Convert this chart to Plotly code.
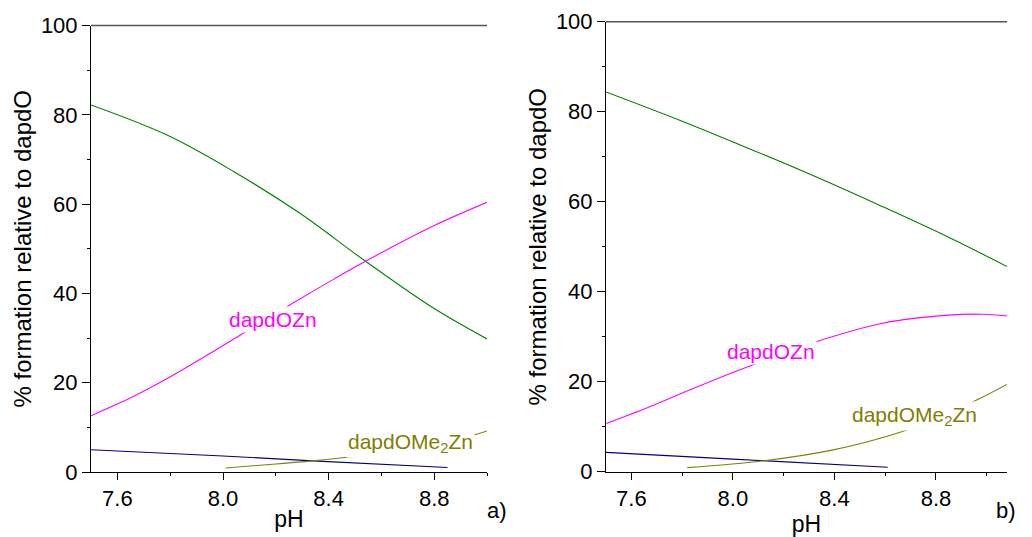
import plotly.graph_objects as go

# ---------------- data ----------------
# panel a)
green_ph_a = [7.5, 7.79, 8.04, 8.29, 8.54, 8.80, 9.0]
green_a = [82.2, 75.4, 67.3, 58.0, 47.2, 36.6, 29.8]
magenta_ph_a = [7.5, 7.66, 7.79, 7.98, 8.27, 8.42, 8.54, 8.80, 9.0]
magenta_a = [12.6, 16.9, 21.0, 27.6, 38.0, 43.2, 47.2, 55.2, 60.4]
blue_ph_a = [7.5, 8.0, 8.34, 8.85]
blue_a = [5.0, 3.6, 2.5, 1.0]
olive_ph_a = [8.01, 8.2, 8.34, 8.51, 8.73, 8.96, 9.0]
olive_a = [0.9, 1.8, 2.5, 3.6, 5.6, 8.45, 9.2]

# panel b)
green_ph_b = [7.5, 7.80, 8.06, 8.32, 8.59, 8.85, 9.08]
green_b = [84.4, 77.9, 71.9, 65.7, 58.9, 52.1, 45.6]
magenta_ph_b = [7.5, 7.67, 7.86, 8.10, 8.34, 8.59, 8.85, 8.98, 9.08]
magenta_b = [10.7, 14.4, 18.9, 24.2, 29.1, 33.0, 34.8, 35.0, 34.6]
blue_ph_b = [7.5, 8.0, 8.61]
blue_b = [4.3, 2.8, 1.0]
olive_ph_b = [7.82, 8.13, 8.39, 8.665, 8.85, 8.97, 9.08]
olive_b = [0.9, 2.5, 4.8, 8.9, 13.0, 16.2, 19.4]

x_ticks = [7.6, 8.0, 8.4, 8.8]
x_tick_text = ["7.6", "8.0", "8.4", "8.8"]
y_ticks = [0, 20, 40, 60, 80, 100]

label_zn = "dapdOZn"
label_me2zn = "dapdOMe<sub>2</sub>Zn"
x_title = "pH"
y_title = "% formation relative to dapdO"
panel_labels = ["a)", "b)"]

# label anchor positions (data coords)
lab_zn_a = (8.19, 34.1)
lab_me_a = (8.71, 6.4)
lab_zn_b = (8.15, 26.7)
lab_me_b = (8.715, 12.3)

GREEN = "#008000"
MAGENTA = "#FF00FF"
NAVY = "#000080"
OLIVE = "#808000"
FRAME = "#555555"
FONT = "Liberation Sans, Arial, sans-serif"

fig = go.Figure()

def add_panel(xa, ya, g, m, b, o):
    for (xs, ys), col in zip([g, m, b, o], [GREEN, MAGENTA, NAVY, OLIVE]):
        fig.add_trace(go.Scatter(x=xs, y=ys, mode="lines", xaxis=xa, yaxis=ya,
                                 line=dict(color=col, width=1.1, shape="spline", smoothing=1.0),
                                 showlegend=False, hoverinfo="skip"))

add_panel("x", "y", (green_ph_a, green_a), (magenta_ph_a, magenta_a),
          (blue_ph_a, blue_a), (olive_ph_a, olive_a))
add_panel("x2", "y2", (green_ph_b, green_b), (magenta_ph_b, magenta_b),
          (blue_ph_b, blue_b), (olive_ph_b, olive_b))

tickfont = dict(family=FONT, size=22, color="black")

def xaxis(dom, rng, anchor):
    return dict(domain=dom, range=rng, anchor=anchor, showgrid=False, zeroline=False,
                automargin=False,
                showline=True, linecolor="black", linewidth=1,
                ticks="outside", ticklen=7, tickcolor="black", tickwidth=1,
                tickvals=x_ticks, ticktext=x_tick_text, tickfont=tickfont,
                minor=dict(ticks="outside", ticklen=3, dtick=0.2, tick0=7.6,
                           tickcolor="black", showgrid=False),
                title=dict(text=x_title, font=dict(family=FONT, size=23, color="black"),
                           standoff=0))

def yaxis(dom, anchor):
    return dict(domain=dom, range=[0, 100], anchor=anchor, showgrid=False, zeroline=False,
                automargin=False,
                showline=True, linecolor="black", linewidth=1,
                ticks="outside", ticklen=8, tickcolor="black", tickwidth=1,
                tickvals=y_ticks, tickfont=tickfont,
                minor=dict(ticks="outside", ticklen=3, dtick=10, tick0=0,
                           tickcolor="black", showgrid=False),
                title=dict(text=y_title, font=dict(family=FONT, size=24, color="black"),
                           standoff=2))

# page body has an 8px margin: place figure so that window pixels match
OFF = 8
W, H = 1024, 529

def fx(px):
    return (px - OFF) / W

def fy(py):
    return 1 - (py - OFF) / H

top_a, top_b = fy(25.5), fy(21.7)

fig.update_layout(
    width=W, height=H,
    margin=dict(l=0, r=0, t=0, b=0, autoexpand=False),
    paper_bgcolor="white", plot_bgcolor="white",
    xaxis=xaxis([fx(91), fx(487)], [7.5, 9.0], "y"),
    yaxis=yaxis([fy(472), top_a], "x"),
    xaxis2=xaxis([fx(606), fx(1007)], [7.5, 9.08], "y2"),
    yaxis2=yaxis([fy(471.7), top_b], "x2"),
)

# gray frame line along the top edge of each plot area (y = 100)
for xr, yt in [("x domain", top_a), ("x2 domain", top_b)]:
    fig.add_shape(type="line", xref=xr, yref="paper", x0=0, x1=1, y0=yt, y1=yt,
                  line=dict(color=FRAME, width=1.5), layer="above")

def label(xr, yr, pos, text, color):
    fig.add_annotation(xref=xr, yref=yr, x=pos[0], y=pos[1], text=text, showarrow=False,
                       font=dict(family=FONT, size=21, color=color),
                       bgcolor="white", borderpad=1)

label("x", "y", lab_zn_a, label_zn, MAGENTA)
label("x", "y", lab_me_a, label_me2zn, OLIVE)
label("x2", "y2", lab_zn_b, label_zn, MAGENTA)
label("x2", "y2", lab_me_b, label_me2zn, OLIVE)

for txt, px in zip(panel_labels, [497, 1018]):
    fig.add_annotation(xref="paper", yref="paper", x=fx(px), y=fy(525), text=txt,
                       showarrow=False, font=dict(family=FONT, size=22, color="black"))

fig.write_html("out.html")
